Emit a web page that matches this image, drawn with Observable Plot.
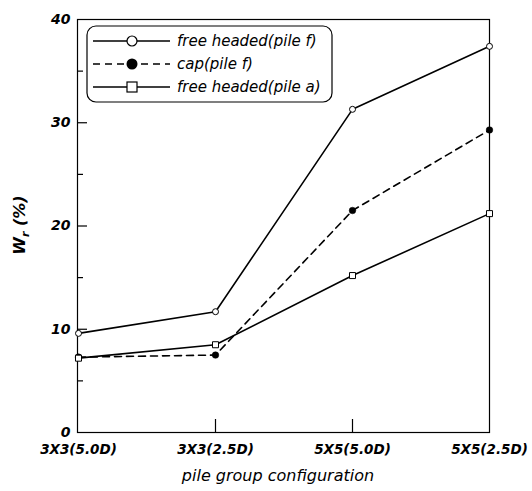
<!DOCTYPE html>
<html>
<head>
<meta charset="utf-8">
<script src="https://cdn.jsdelivr.net/npm/d3@7"></script>
<script src="https://cdn.jsdelivr.net/npm/@observablehq/plot@0.6"></script>
<style>
  html, body { margin: 0; padding: 0; background: white; }
  #chart { position: relative; width: 532px; height: 491px; }
</style>
</head>
<body>
<div id="chart"></div>
<script>
const categories = ["3X3(5.0D)", "3X3(2.5D)", "5X5(5.0D)", "5X5(2.5D)"];
const freeHeadedF = [9.6, 11.7, 31.3, 37.4];
const capF = [7.3, 7.5, 21.5, 29.3];
const freeHeadedA = [7.2, 8.5, 15.2, 21.2];
const seriesNames = ["free headed(pile f)", "cap(pile f)", "free headed(pile a)"];
const yMajorTicks = [0, 10, 20, 30, 40];
const yMinorTicks = [5, 15, 25, 35];
const xLabel = "pile group configuration";

const toRows = (vals) => categories.map((c, i) => ({cat: c, v: vals[i]}));
const rowsF = toRows(freeHeadedF);
const rowsCap = toRows(capF);
const rowsA = toRows(freeHeadedA);

const font = "'DejaVu Sans', sans-serif";

const plot = Plot.plot({
  width: 532,
  height: 491,
  marginLeft: 77,
  marginRight: 43,
  marginTop: 19,
  marginBottom: 59,
  x: {type: "point", domain: categories, padding: 0},
  y: {domain: [0, 40]},
  style: {fontFamily: font, fontStyle: "italic", fontWeight: "bold", fontSize: "13.5px", color: "black", background: "white"},
  marks: [
    Plot.axisY({ticks: yMajorTicks, tickSize: 0, tickPadding: 7, label: null, fontSize: 14}),
    Plot.axisY({ticks: [10, 20, 30], tickSize: -10, text: null, label: null, strokeWidth: 1.2}),
    Plot.axisY({ticks: yMinorTicks, tickSize: -6, text: null, label: null, strokeWidth: 1.2}),
    Plot.axisX({tickSize: 0, tickPadding: 12, label: null}),
    Plot.axisX({ticks: [categories[1], categories[2]], tickSize: -13, text: null, label: null, strokeWidth: 1.2}),
    Plot.frame({stroke: "black", strokeWidth: 1.2}),
    Plot.line(rowsF, {x: "cat", y: "v", stroke: "black", strokeWidth: 1.6}),
    Plot.line(rowsCap, {x: "cat", y: "v", stroke: "black", strokeWidth: 1.6, strokeDasharray: "7,5"}),
    Plot.line(rowsA, {x: "cat", y: "v", stroke: "black", strokeWidth: 1.6}),
    Plot.dot(rowsF, {x: "cat", y: "v", r: 3, fill: "white", stroke: "black", strokeWidth: 1}),
    Plot.dot(rowsCap, {x: "cat", y: "v", r: 3.3, fill: "black", stroke: "black", strokeWidth: 0.5}),
    Plot.dot(rowsA, {x: "cat", y: "v", symbol: "square", r: 3.4, fill: "white", stroke: "black", strokeWidth: 1})
  ]
});

document.getElementById("chart").appendChild(plot);
const svg = d3.select(plot);

// Y axis title with subscript
const yt = svg.append("text")
  .attr("transform", "translate(25,225) rotate(-90)")
  .attr("text-anchor", "middle")
  .attr("font-family", font)
  .attr("font-style", "italic")
  .attr("font-weight", "bold")
  .attr("font-size", 16)
  .attr("fill", "black");
yt.append("tspan").text("W");
yt.append("tspan").attr("font-size", 11).attr("dy", 4).text("r");
yt.append("tspan").attr("dy", -4).text(" (%)");

// X axis title
svg.append("text")
  .attr("x", 278).attr("y", 481)
  .attr("text-anchor", "middle")
  .attr("font-family", font)
  .attr("font-style", "italic")
  .attr("font-weight", "normal")
  .attr("font-size", 16)
  .attr("fill", "black")
  .text(xLabel);

// Legend
const lg = svg.append("g")
  .attr("font-family", font).attr("font-style", "italic").attr("font-weight", "normal")
  .attr("font-size", 15).attr("text-anchor", "start");
lg.append("rect").attr("x", 87).attr("y", 26).attr("width", 245).attr("height", 76).attr("rx", 9)
  .attr("fill", "white").attr("stroke", "black").attr("stroke-width", 1.2);
const rowY = [41, 64, 87];
const dashes = [null, "7,5", null];
rowY.forEach((yy, i) => {
  lg.append("line").attr("x1", 93).attr("x2", 170).attr("y1", yy).attr("y2", yy)
    .attr("stroke", "black").attr("stroke-width", 1.6).attr("stroke-dasharray", dashes[i]);
  if (i === 0) lg.append("circle").attr("cx", 132).attr("cy", yy).attr("r", 5).attr("fill", "white").attr("stroke", "black").attr("stroke-width", 1.2);
  if (i === 1) lg.append("circle").attr("cx", 132).attr("cy", yy).attr("r", 5.5).attr("fill", "black");
  if (i === 2) lg.append("rect").attr("x", 127).attr("y", yy - 5).attr("width", 10).attr("height", 10).attr("fill", "white").attr("stroke", "black").attr("stroke-width", 1.2);
  lg.append("text").attr("x", 177).attr("y", yy).attr("dy", "0.36em")
    .attr("text-anchor", "start").attr("font-weight", "normal").attr("fill", "black").text(seriesNames[i]);
});
</script>
</body>
</html>
